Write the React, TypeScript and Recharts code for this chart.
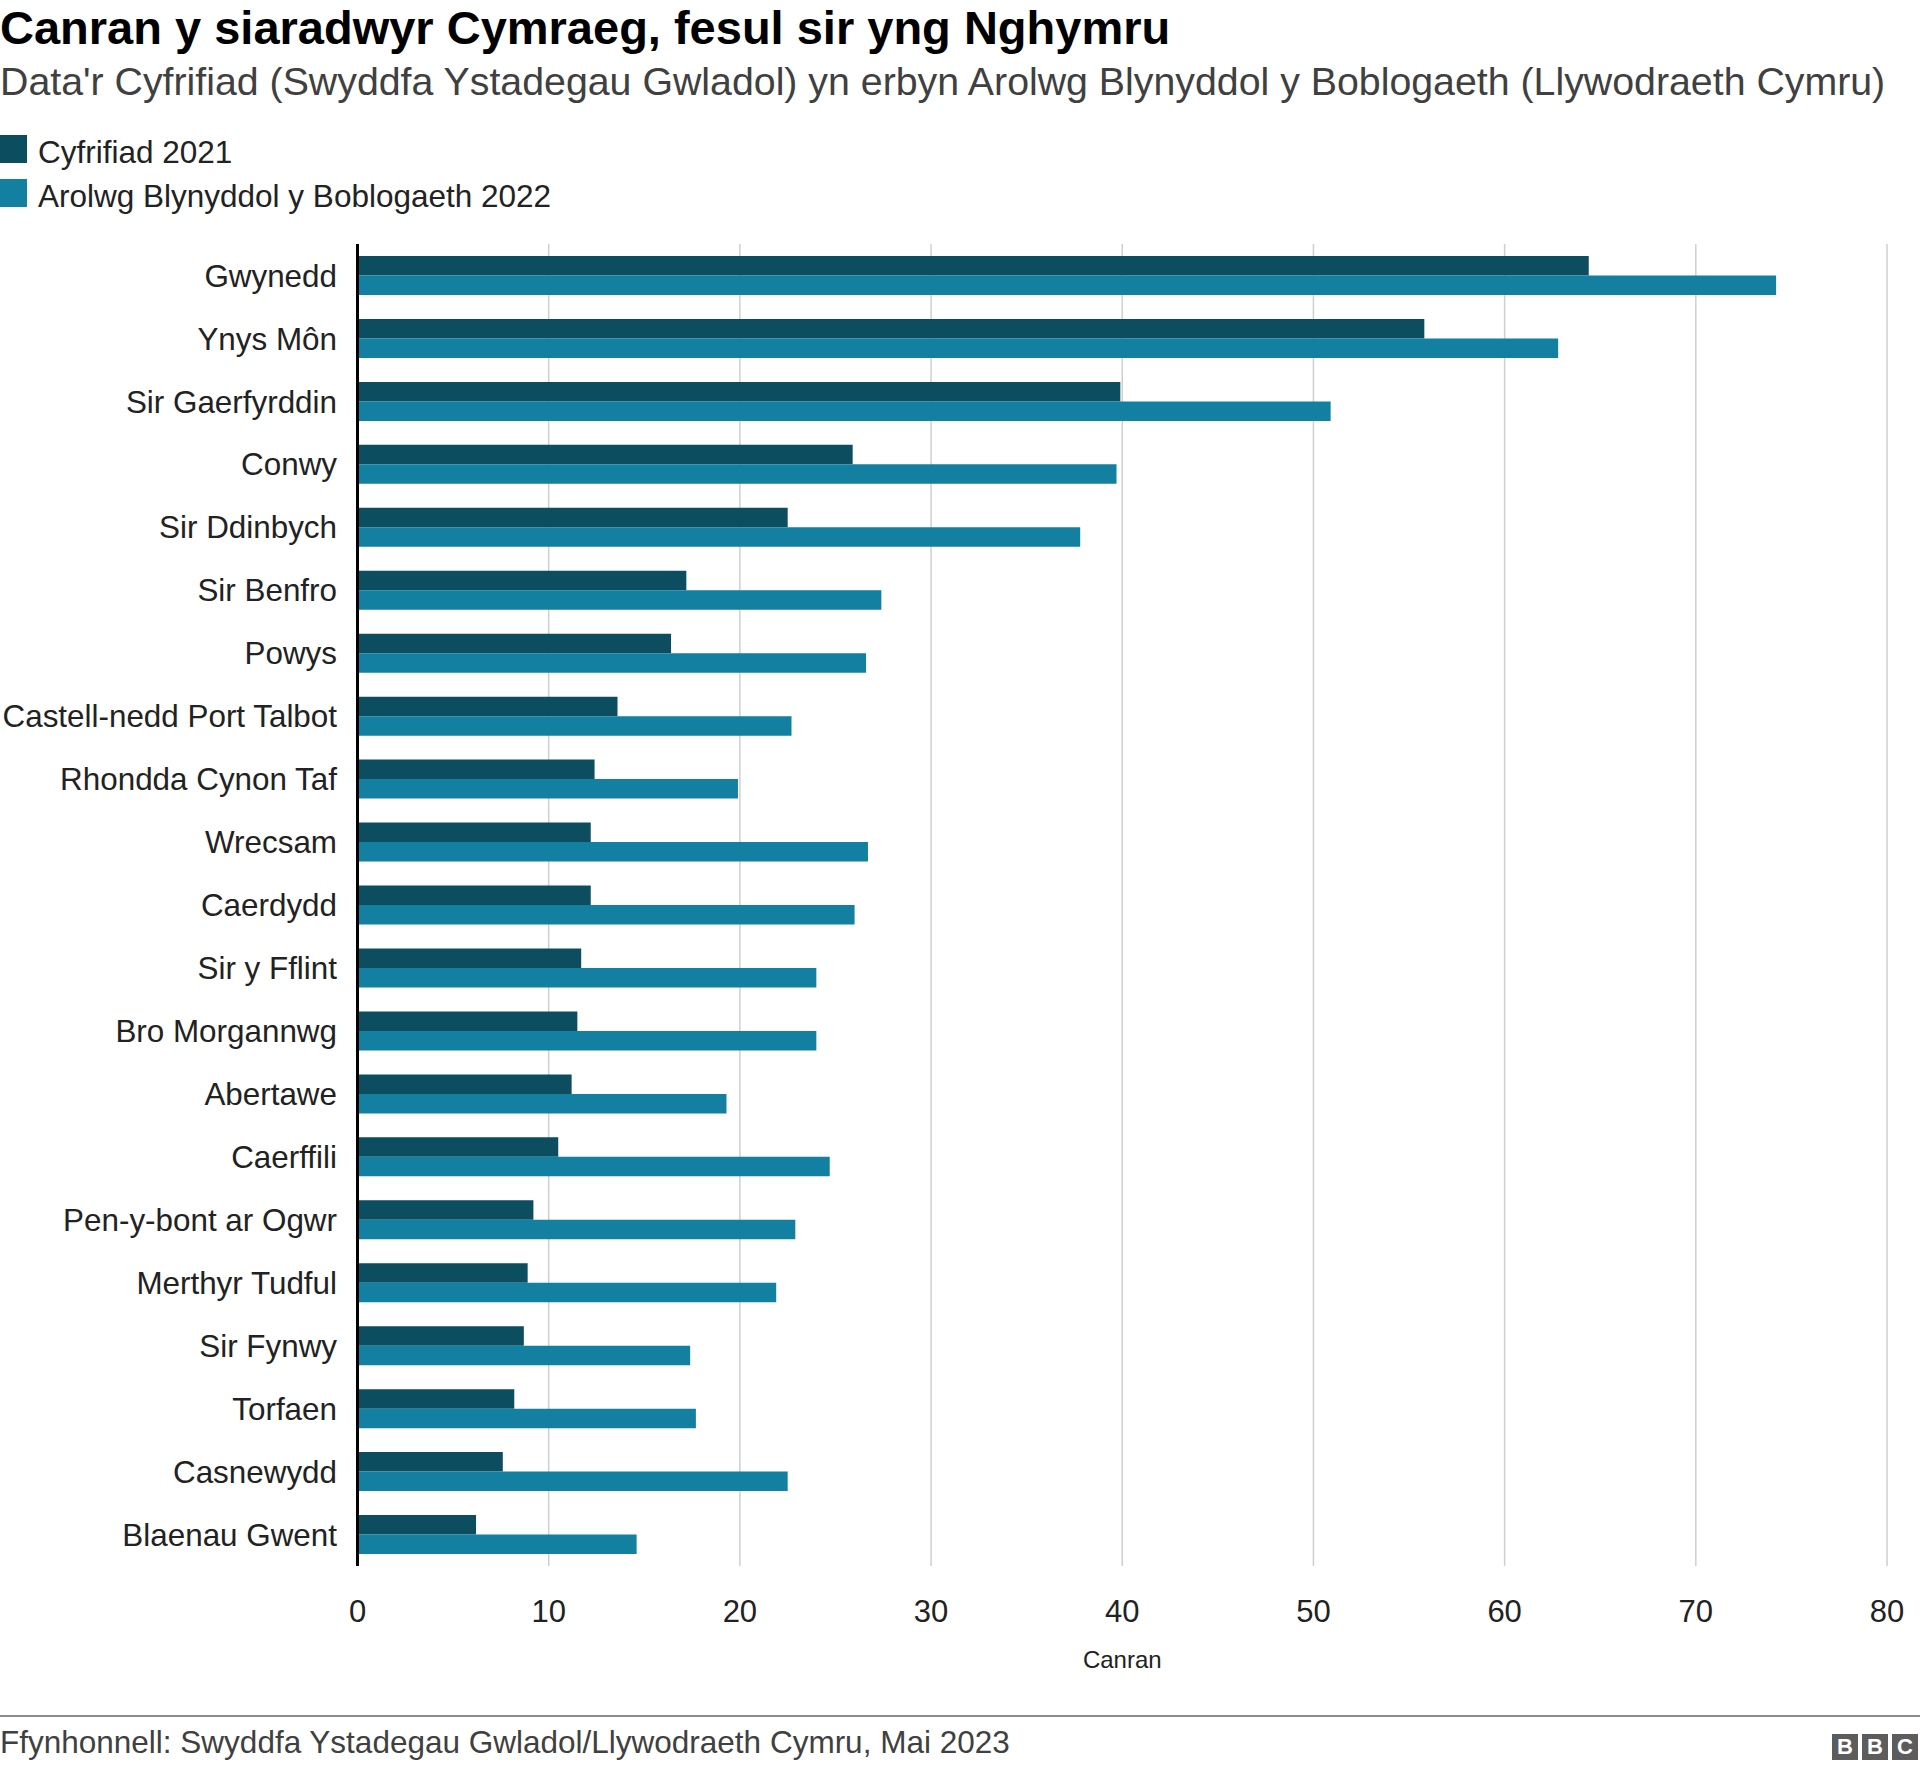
import React from "react";
import { Bar, BarChart, CartesianGrid, Label, XAxis, YAxis } from "recharts";

const counties = [
  "Gwynedd",
  "Ynys Môn",
  "Sir Gaerfyrddin",
  "Conwy",
  "Sir Ddinbych",
  "Sir Benfro",
  "Powys",
  "Castell-nedd Port Talbot",
  "Rhondda Cynon Taf",
  "Wrecsam",
  "Caerdydd",
  "Sir y Fflint",
  "Bro Morgannwg",
  "Abertawe",
  "Caerffili",
  "Pen-y-bont ar Ogwr",
  "Merthyr Tudful",
  "Sir Fynwy",
  "Torfaen",
  "Casnewydd",
  "Blaenau Gwent",
];

const census2021 = [64.4, 55.8, 39.9, 25.9, 22.5, 17.2, 16.4, 13.6, 12.4, 12.2, 12.2, 11.7, 11.5, 11.2, 10.5, 9.2, 8.9, 8.7, 8.2, 7.6, 6.2];
const aps2022 = [74.2, 62.8, 50.9, 39.7, 37.8, 27.4, 26.6, 22.7, 19.9, 26.7, 26.0, 24.0, 24.0, 19.3, 24.7, 22.9, 21.9, 17.4, 17.7, 22.5, 14.6];

const xTicks = [0, 10, 20, 30, 40, 50, 60, 70, 80];

const seriesNames = ["Cyfrifiad 2021", "Arolwg Blynyddol y Boblogaeth 2022"];
const DARK = "#0c4d60";
const LIGHT = "#1380a1";

const FONT = '"Liberation Sans", Arial, Helvetica, sans-serif';

const rows = counties.map((name, i) => ({
  name,
  census: census2021[i],
  aps: aps2022[i],
}));

function LegendRow({ color, label, top }: { color: string; label: string; top: number }) {
  return (
    <div style={{ position: "absolute", left: 0, top, height: 28 }}>
      <div style={{ width: 27, height: 28, background: color }} />
      <span
        style={{
          position: "absolute",
          left: 38,
          top: 2,
          fontSize: 31.5,
          lineHeight: "31.5px",
          color: "#222",
          whiteSpace: "nowrap",
        }}
      >
        {label}
      </span>
    </div>
  );
}

export default function App() {
  return (
    <div style={{ position: "relative", width: 1920, height: 1770, background: "#fff", fontFamily: FONT, overflow: "hidden" }}>
      <style>{"body{margin:0}"}</style>

      <div
        style={{
          position: "absolute",
          left: 0,
          top: 4,
          fontSize: 47,
          lineHeight: "47px",
          fontWeight: 700,
          color: "#000",
          whiteSpace: "nowrap",
        }}
      >
        Canran y siaradwyr Cymraeg, fesul sir yng Nghymru
      </div>
      <div
        style={{
          position: "absolute",
          left: 0,
          top: 62,
          fontSize: 39.3,
          lineHeight: "39.3px",
          color: "#404040",
          whiteSpace: "nowrap",
        }}
      >
        Data'r Cyfrifiad (Swyddfa Ystadegau Gwladol) yn erbyn Arolwg Blynyddol y Boblogaeth (Llywodraeth Cymru)
      </div>

      <LegendRow color={DARK} label={seriesNames[0]} top={135} />
      <LegendRow color={LIGHT} label={seriesNames[1]} top={179} />

      <div style={{ position: "absolute", left: 0, top: 0 }}>
        <BarChart
          width={1920}
          height={1770}
          data={rows}
          layout="vertical"
          margin={{ top: 244, right: 33, bottom: 94, left: 0 }}
          barGap={0}
          barSize={19.5}
        >
          <CartesianGrid horizontal={false} stroke="#cfcfcf" strokeWidth={1.5} />
          <XAxis
            type="number"
            domain={[0, 80]}
            ticks={xTicks}
            axisLine={false}
            tickLine={false}
            tickSize={6}
            tickMargin={28}
            height={110}
            tick={{ fontSize: 31, fill: "#222", fontFamily: FONT }}
          >
            <Label value="Canran" position="insideBottom" offset={8} style={{ fontSize: 24, fill: "#222", fontFamily: FONT }} />
          </XAxis>
          <YAxis
            type="category"
            dataKey="name"
            width={357.5}
            axisLine={{ stroke: "#000", strokeWidth: 3 }}
            tickLine={false}
            tickSize={6}
            tickMargin={14.5}
            interval={0}
            tick={{ fontSize: 31.4, fill: "#222", fontFamily: FONT }}
          />
          <Bar dataKey="census" name={seriesNames[0]} fill={DARK} isAnimationActive={false} />
          <Bar dataKey="aps" name={seriesNames[1]} fill={LIGHT} isAnimationActive={false} />
        </BarChart>
      </div>

      <div style={{ position: "absolute", left: 0, top: 1715, width: 1920, height: 2, background: "#8a8a8a" }} />
      <div
        style={{
          position: "absolute",
          left: 0,
          top: 1727,
          fontSize: 31.5,
          lineHeight: "31.5px",
          color: "#404040",
          whiteSpace: "nowrap",
        }}
      >
        Ffynhonnell: Swyddfa Ystadegau Gwladol/Llywodraeth Cymru, Mai 2023
      </div>
      <div style={{ position: "absolute", left: 1832, top: 1734, display: "flex", gap: 4 }}>
        {["B", "B", "C"].map((ch, i) => (
          <div
            key={i}
            style={{
              width: 26,
              height: 26,
              background: "#5c5c5c",
              color: "#fff",
              fontWeight: 700,
              fontSize: 22,
              lineHeight: "26px",
              textAlign: "center",
            }}
          >
            {ch}
          </div>
        ))}
      </div>
    </div>
  );
}
